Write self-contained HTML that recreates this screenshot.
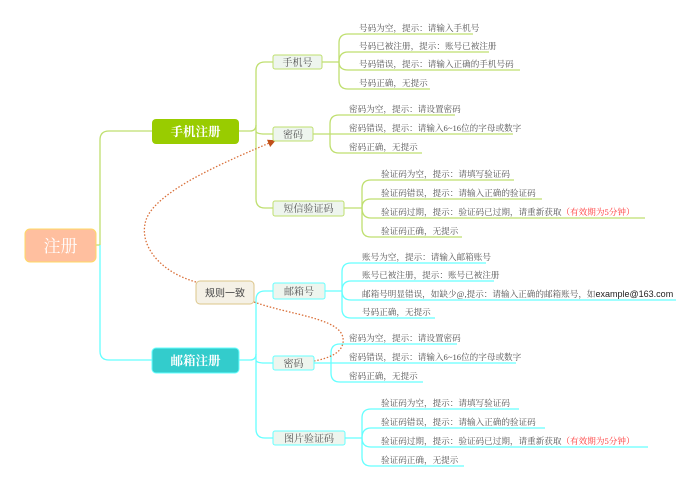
<!DOCTYPE html>
<html><head><meta charset="utf-8"><style>
html,body{margin:0;padding:0;background:#fff;width:700px;height:491px;overflow:hidden}
svg{display:block}
.lf{font-family:"Liberation Serif","Noto Serif CJK SC",serif;font-size:8.6px;fill:#555}
.nd{font-family:"Liberation Serif","Noto Serif CJK SC",serif;font-size:10px;fill:#555}
</style></head><body>
<svg width="700" height="491" viewBox="0 0 700 491" xmlns="http://www.w3.org/2000/svg">
<defs>
<marker id="ar" markerWidth="8" markerHeight="8" refX="6" refY="4" orient="auto" markerUnits="userSpaceOnUse">
<path d="M0,0 L8,4 L0,8 z" fill="#c0501a"/></marker>
</defs>
<g fill="none" stroke-width="1.3">
<!-- root connectors -->
<path d="M96,245 H100 M100,245 V140 Q100,131 109,131 H152" stroke="#bfdf6f"/>
<path d="M100,245 V351 Q100,360 109,360 H152" stroke="#66ffff"/>
<!-- green branch -->
<path d="M239,131 H250 Q256,131 256,125 V71 Q256,62 265,62 H273" stroke="#bfdf6f"/>
<path d="M256,125 V199 Q256,208 265,208 H273 M256,131 Q256,134 265,134 H273" stroke="#bfdf6f"/>
<!-- cyan branch -->
<path d="M239,360 H250 Q256,360 256,354 V300 Q256,291 265,291 H273" stroke="#66ffff"/>
<path d="M256,354 V429 Q256,438 265,438 H273 M256,360 Q256,363 265,363 H273" stroke="#66ffff"/>

<!-- 手机号 leaves -->
<g stroke="#bfdf6f">
<path d="M322,62 H339"/>
<path d="M339,43 V80"/>
<path d="M339,43 Q339,34 348,34 H473"/>
<path d="M339,62 Q339,52 348,52 H489"/>
<path d="M339,62 Q339,70 348,70 H520"/>
<path d="M339,80 Q339,89 348,89 H430"/>
<!-- 密码 -->
<path d="M313,134 H330"/>
<path d="M330,124 V144"/>
<path d="M330,124 Q330,115 339,115 H455"/>
<path d="M330,134 H513"/>
<path d="M330,144 Q330,153 339,153 H422"/>
<!-- 短信 -->
<path d="M344,208 H362"/>
<path d="M362,189 V228"/>
<path d="M362,189 Q362,180 371,180 H514"/>
<path d="M362,208 Q362,199 371,199 H542"/>
<path d="M362,208 Q362,218 371,218 H645"/>
<path d="M362,228 Q362,237 371,237 H462"/>
</g>
<g stroke="#66ffff">
<!-- 邮箱号 -->
<path d="M325,291 H342"/>
<path d="M342,272 V309"/>
<path d="M342,272 Q342,263 351,263 H486"/>
<path d="M342,291 Q342,281 351,281 H494"/>
<path d="M342,291 Q342,300 351,300 H676"/>
<path d="M342,309 Q342,318 351,318 H435"/>
<!-- 密码 -->
<path d="M314,363 H331"/>
<path d="M331,353 V373"/>
<path d="M331,353 Q331,344 340,344 H457"/>
<path d="M331,363 H516"/>
<path d="M331,373 Q331,382 340,382 H423"/>
<!-- 图片 -->
<path d="M345,438 H362"/>
<path d="M362,418 V457"/>
<path d="M362,418 Q362,409 371,409 H519"/>
<path d="M362,438 Q362,428 371,428 H545"/>
<path d="M362,438 Q362,447 371,447 H648"/>
<path d="M362,457 Q362,466 371,466 H464"/>
</g>
<!-- dotted relations -->
<path d="M196,282 C160,272 138,245 146,220 C156,190 230,160 274,141" stroke="#d9703a" stroke-dasharray="1.5,1.8" marker-end="url(#ar)"/>
<path d="M254,302 C290,315 340,318 343,338 C345,352 330,358 314,361" stroke="#d9703a" stroke-dasharray="1.5,1.8"/>
</g>

<!-- main nodes -->
<rect x="25" y="229" width="71" height="33" rx="5" fill="#ffbf9f" stroke="#ffd966" stroke-width="1"/>
<text x="60.5" y="252" text-anchor="middle" font-family="Liberation Serif,'Noto Serif CJK SC',serif" font-size="17" fill="#fff">注册</text>
<rect x="152" y="119" width="87" height="25" rx="4" fill="#99cc00"/>
<text x="195.5" y="136" text-anchor="middle" font-family="Liberation Serif,'Noto Serif CJK SC',serif" font-size="12.5" font-weight="bold" fill="#fff">手机注册</text>
<rect x="152" y="348" width="87" height="25" rx="4" fill="#33cccc" stroke="#66ffff"/>
<text x="195.5" y="365" text-anchor="middle" font-family="Liberation Serif,'Noto Serif CJK SC',serif" font-size="12.5" font-weight="bold" fill="#fff">邮箱注册</text>
<rect x="196" y="281" width="58" height="23" rx="4" fill="#f5f1e6" stroke="#dcc68a"/>
<text x="225" y="296.5" text-anchor="middle" font-family="Liberation Sans,'Noto Sans CJK SC',sans-serif" font-size="10" fill="#444">规则一致</text>

<!-- sub nodes green -->
<g fill="#eef5ee" stroke="#bfdf6f">
<rect x="273" y="55" width="49" height="14" rx="2"/>
<rect x="273" y="127" width="40" height="14" rx="2"/>
<rect x="273" y="201" width="71" height="15" rx="2"/>
</g>
<g fill="#eef5ee" stroke="#66ffff">
<rect x="273" y="283" width="52" height="16" rx="2"/>
<rect x="273" y="356" width="41" height="14" rx="2"/>
<rect x="273" y="431" width="72" height="14" rx="2"/>
</g>
<g class="nd" text-anchor="middle">
<text x="297.5" y="66">手机号</text>
<text x="293" y="138">密码</text>
<text x="308.5" y="212">短信验证码</text>
<text x="299" y="295">邮箱号</text>
<text x="293.5" y="367">密码</text>
<text x="309" y="442">图片验证码</text>
</g>

<g class="lf">
<text x="359" y="31">号码为空，提示：请输入手机号</text>
<text x="359" y="49">号码已被注册，提示：账号已被注册</text>
<text x="359" y="67">号码错误，提示：请输入正确的手机号码</text>
<text x="359" y="86">号码正确，无提示</text>
<text x="349" y="112">密码为空，提示：请设置密码</text>
<text x="349" y="131">密码错误，提示：请输入6~16位的字母或数字</text>
<text x="349" y="150">密码正确，无提示</text>
<text x="381" y="177">验证码为空，提示：请填写验证码</text>
<text x="381" y="196">验证码错误，提示：请输入正确的验证码</text>
<text x="381" y="215">验证码过期，提示：验证码已过期，请重新获取<tspan fill="#ff3333">（有效期为5分钟）</tspan></text>
<text x="381" y="234">验证码正确，无提示</text>

<text x="362" y="260">账号为空，提示：请输入邮箱账号</text>
<text x="362" y="278">账号已被注册，提示：账号已被注册</text>
<text x="362" y="297">邮箱号明显错误，如缺少@,提示：请输入正确的邮箱账号，如<tspan font-family="Liberation Sans,sans-serif" fill="#222" font-size="9">example@163.com</tspan></text>
<text x="362" y="315">号码正确，无提示</text>
<text x="349" y="341">密码为空，提示：请设置密码</text>
<text x="349" y="360">密码错误，提示：请输入6~16位的字母或数字</text>
<text x="349" y="379">密码正确，无提示</text>
<text x="381" y="406">验证码为空，提示：请填写验证码</text>
<text x="381" y="425">验证码错误，提示：请输入正确的验证码</text>
<text x="381" y="444">验证码过期，提示：验证码已过期，请重新获取<tspan fill="#ff3333">（有效期为5分钟）</tspan></text>
<text x="381" y="463">验证码正确，无提示</text>
</g>
</svg>
</body></html>
